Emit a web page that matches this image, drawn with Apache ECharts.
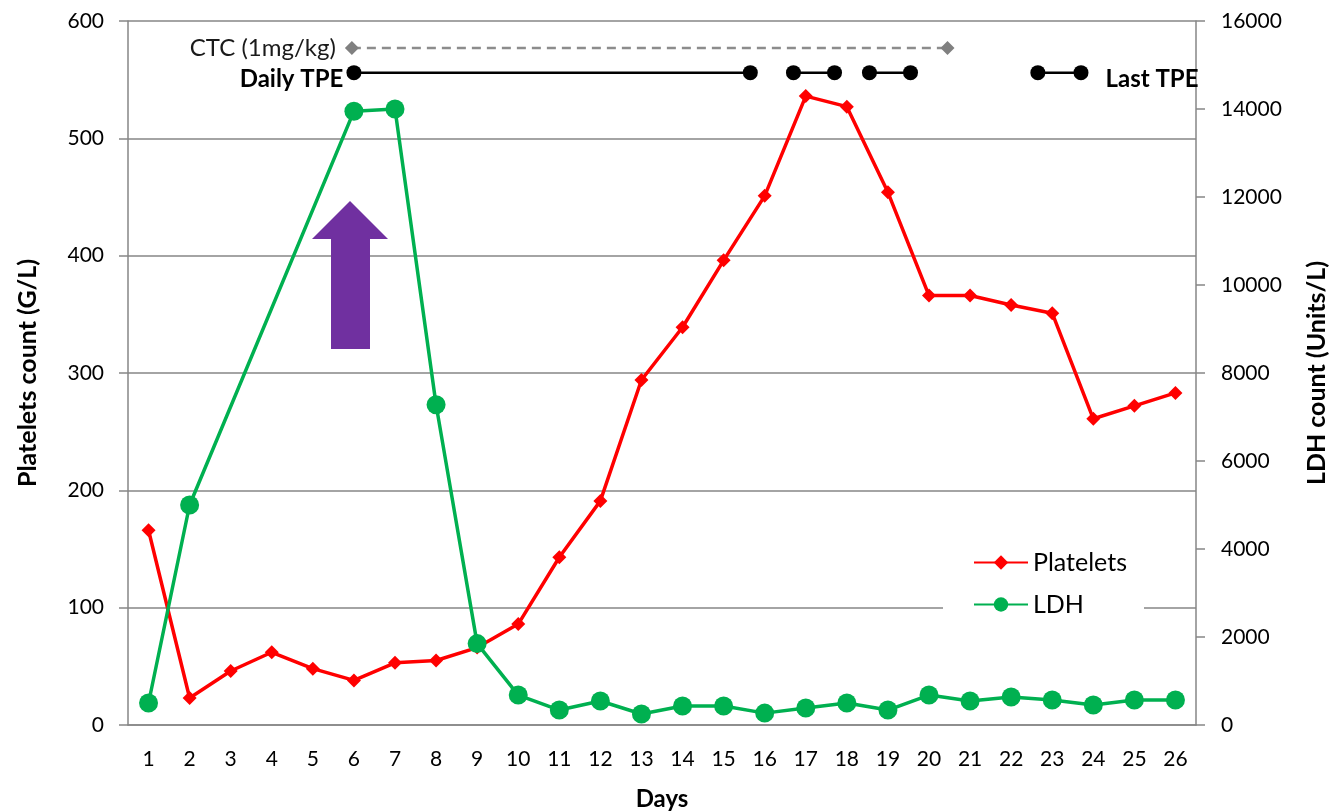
<!DOCTYPE html>
<html>
<head>
<meta charset="utf-8">
<script src="https://cdn.jsdelivr.net/npm/echarts@6/dist/echarts.min.js"></script>
<style>
  html, body { margin: 0; padding: 0; background: #fff; }
  #chart { width: 1332px; height: 811px; }
</style>
</head>
<body>
<div id="chart"></div>
<script>
// Day numbers on the category axis
const days = ['1','2','3','4','5','6','7','8','9','10','11','12','13','14','15','16','17','18','19','20','21','22','23','24','25','26'];
// Platelets count (G/L), left axis
const platelets = [166, 23, 46, 62, 48, 38, 53, 55, 66, 86, 143, 191, 294, 339, 396, 451, 536, 527, 454, 366, 366, 358, 351, 261, 272, 283];
// LDH count (Units/L), right axis; days 3-5 not measured
const ldh = [500, 5000, null, null, null, 13950, 14000, 7280, 1850, 680, 340, 545, 250, 430, 430, 270, 385, 500, 340, 680, 545, 635, 567, 454, 567, 567];
// Treatment bars above the curves (day positions, platelet-axis height)
const ctcRange = [5.95, 20.45];
const ctcLevel = 577;
const tpeSegments = [[6, 15.65], [16.7, 17.7], [18.55, 19.55], [22.65, 23.7]];
const tpeLevel = 556;

const FONT = 'Lato';
const GRAY = '#868686';
const chart = echarts.init(document.getElementById('chart'));

const tpeSeries = tpeSegments.map((seg, i) => {
  const first = { value: [seg[0], tpeLevel] };
  const last = { value: [seg[1], tpeLevel] };
  if (i === 0) {
    first.label = { show: true, position: 'left', distance: 3, formatter: 'Daily TPE',
      fontFamily: FONT, fontWeight: 'bold', fontSize: 24, color: '#000', offset: [0, 7] };
  }
  if (i === tpeSegments.length - 1) {
    last.label = { show: true, position: 'right', distance: 17, formatter: 'Last TPE',
      fontFamily: FONT, fontWeight: 'bold', fontSize: 24, color: '#000', offset: [0, 7] };
  }
  return {
    name: 'TPE' + i, type: 'line', xAxisIndex: 1, yAxisIndex: 0,
    data: [first, last], symbol: 'circle', symbolSize: 15,
    itemStyle: { color: '#000' }, lineStyle: { color: '#000', width: 2.5 },
    silent: true, z: 5
  };
});

const option = {
  animation: false,
  textStyle: { fontFamily: FONT },
  grid: { left: 128, right: 136, top: 21, bottom: 86, outerBoundsMode: 'none', containLabel: false },
  legend: {
    data: ['Platelets', 'LDH'],
    orient: 'vertical', left: 943, top: 542,
    itemWidth: 54, itemHeight: 18, itemGap: 17,
    padding: [8, 17, 10, 30],
    backgroundColor: '#fff',
    textStyle: { fontFamily: FONT, fontSize: 25, color: '#000' }
  },
  xAxis: [
    {
      type: 'category', data: days, boundaryGap: true,
      name: 'Days', nameLocation: 'middle', nameGap: 62,
      nameTextStyle: { fontFamily: FONT, fontWeight: 'bold', fontSize: 24, color: '#000' },
      axisLine: { lineStyle: { color: GRAY, width: 1.5 } },
      axisTick: { alignWithLabel: false, length: 10, lineStyle: { color: GRAY, width: 1.5 } },
      axisLabel: { fontFamily: FONT, fontSize: 21, color: '#000', margin: 24, interval: 0 },
      splitLine: { show: false }
    },
    { type: 'value', min: 0.5, max: 26.5, show: false }
  ],
  yAxis: [
    {
      type: 'value', min: 0, max: 600, interval: 100,
      name: 'Platelets count (G/L)', nameLocation: 'middle', nameGap: 88, nameRotate: 90,
      nameTextStyle: { fontFamily: FONT, fontWeight: 'bold', fontSize: 25, color: '#000' },
      axisLine: { show: true, lineStyle: { color: GRAY, width: 1.5 } },
      axisTick: { show: true, length: 9, lineStyle: { color: GRAY, width: 1.5 } },
      axisLabel: { fontFamily: FONT, fontSize: 21, color: '#000', margin: 24 },
      splitLine: { show: true, lineStyle: { color: GRAY, width: 1.5 } }
    },
    {
      type: 'value', min: 0, max: 16000, interval: 2000, position: 'right',
      name: 'LDH count (Units/L)', nameLocation: 'middle', nameGap: 108, nameRotate: 90,
      nameTextStyle: { fontFamily: FONT, fontWeight: 'bold', fontSize: 25, color: '#000' },
      axisLine: { show: true, lineStyle: { color: GRAY, width: 1.5 } },
      axisTick: { show: true, length: 9, lineStyle: { color: GRAY, width: 1.5 } },
      axisLabel: { fontFamily: FONT, fontSize: 21, color: '#000', margin: 25,
        formatter: (v) => String(v) },
      splitLine: { show: false }
    }
  ],
  graphic: [
    {
      type: 'polygon', z: 3,
      shape: { points: [[350, 201], [388, 239], [370, 239], [370, 349], [331, 349], [331, 239], [312, 239]] },
      style: { fill: '#7030A0' }
    }
  ],
  series: [
    {
      name: 'CTC', type: 'line', xAxisIndex: 1, yAxisIndex: 0,
      data: [
        { value: [ctcRange[0], ctcLevel], label: { show: true, position: 'left', distance: 9,
          formatter: 'CTC (1mg/kg)', fontFamily: FONT, fontSize: 24, color: '#1a1a1a' } },
        { value: [ctcRange[1], ctcLevel] }
      ],
      symbol: 'diamond', symbolSize: 14,
      itemStyle: { color: '#808080' },
      lineStyle: { color: '#8c8c8c', width: 2.5, type: [9, 6] },
      silent: true, z: 5
    },
    ...tpeSeries,
    {
      name: 'Platelets', type: 'line', xAxisIndex: 0, yAxisIndex: 0,
      data: platelets,
      symbol: 'diamond', symbolSize: 14,
      itemStyle: { color: '#ff0000' },
      lineStyle: { color: '#ff0000', width: 3.5 },
      z: 3
    },
    {
      name: 'LDH', type: 'line', xAxisIndex: 0, yAxisIndex: 1,
      data: ldh, connectNulls: true,
      symbol: 'circle', symbolSize: 19,
      itemStyle: { color: '#00b050' },
      lineStyle: { color: '#00b050', width: 3.5 },
      z: 4
    }
  ]
};

chart.setOption(option);
</script>
</body>
</html>
